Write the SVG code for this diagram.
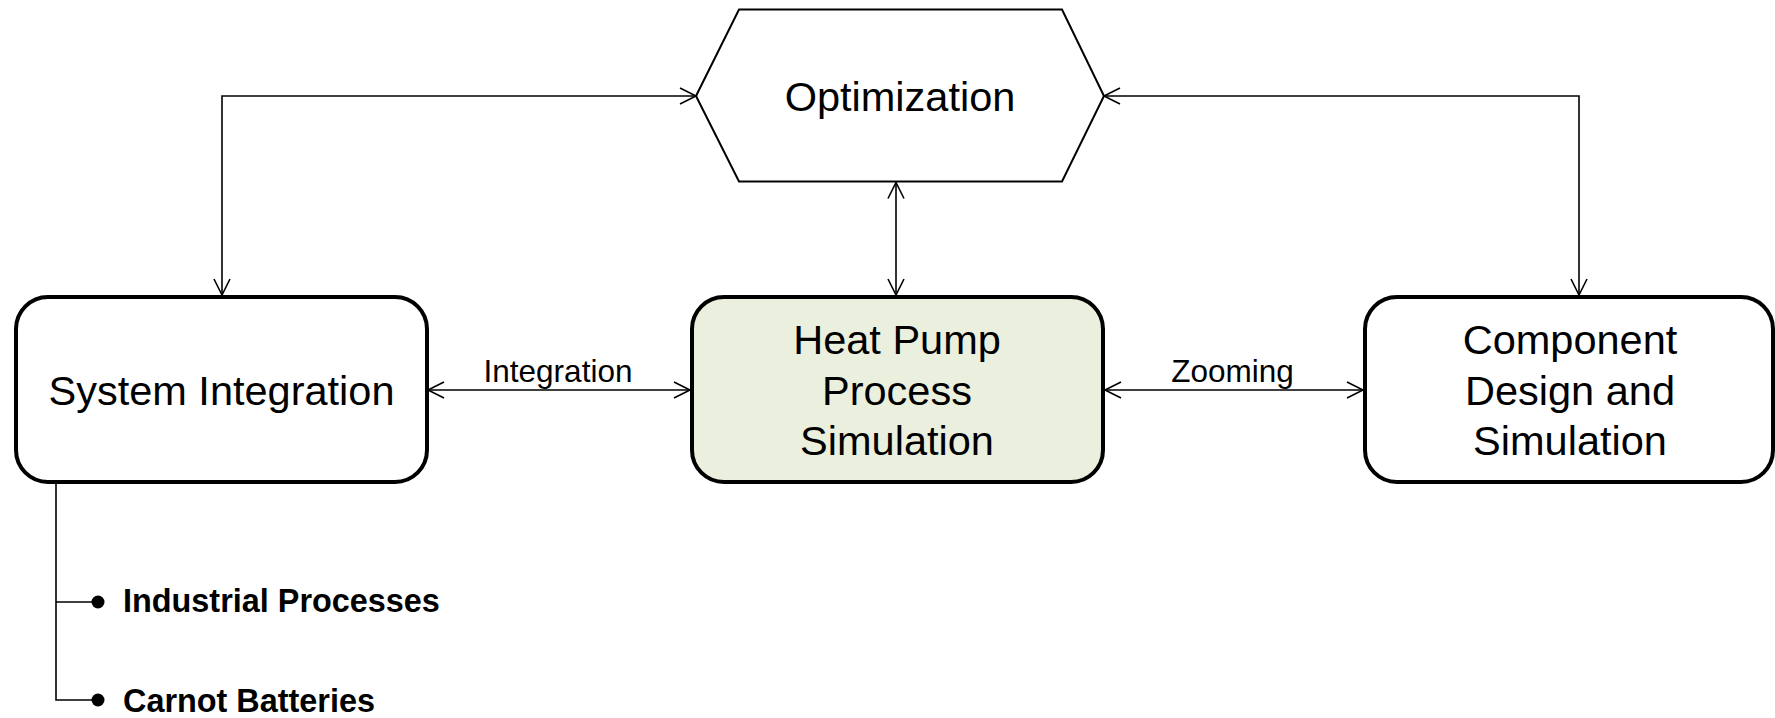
<svg xmlns="http://www.w3.org/2000/svg" width="1775" height="718" viewBox="0 0 1775 718">
<style>
.box{fill:#fff;stroke:#000;stroke-width:4}
.hp{fill:#EBEFDE}
.hex{fill:#fff;stroke:#000;stroke-width:2}
.con{fill:none;stroke:#000;stroke-width:1.6}
.t{font-family:"Liberation Sans",Arial,sans-serif;font-size:41.5px;fill:#000;text-anchor:middle}
.lbl{font-family:"Liberation Sans",Arial,sans-serif;font-size:31.5px;fill:#000;text-anchor:middle}
.b{font-family:"Liberation Sans",Arial,sans-serif;font-size:32.4px;font-weight:bold;fill:#000}
</style>
<defs>
<marker id="ah" markerUnits="userSpaceOnUse" viewBox="-17 -10 19 20" refX="0" refY="0" markerWidth="19" markerHeight="20" orient="auto-start-reverse">
<path d="M-16,-8 L0,0 L-16,8" fill="none" stroke="#000" stroke-width="1.6"/>
</marker>
</defs>
<rect width="1775" height="718" fill="#fff"/>
<g id="optimization">
<polygon class="hex" points="696,96 739,9.5 1062,9.5 1104,96 1062,181.5 739,181.5"/>
<text class="t" x="900" y="111">Optimization</text>
</g>
<g id="system-integration">
<rect class="box" x="16" y="297" width="411" height="185" rx="32"/>
<text class="t" x="221.5" y="405">System Integration</text>
</g>
<g id="heat-pump">
<rect class="box hp" x="692" y="297" width="411" height="185" rx="32"/>
<text class="t" x="897" y="354">Heat Pump</text>
<text class="t" x="897" y="405">Process</text>
<text class="t" x="897" y="455">Simulation</text>
</g>
<g id="component-design">
<rect class="box" x="1365" y="297" width="408" height="185" rx="32"/>
<text class="t" x="1570" y="354">Component</text>
<text class="t" x="1570" y="405">Design and</text>
<text class="t" x="1570" y="455">Simulation</text>
</g>
<g id="connectors">
<path class="con" d="M696,96 H222 V295" marker-start="url(#ah)" marker-end="url(#ah)"/>
<path class="con" d="M1104,96 H1579 V295" marker-start="url(#ah)" marker-end="url(#ah)"/>
<path class="con" d="M896,182.5 V295" marker-start="url(#ah)" marker-end="url(#ah)"/>
<path class="con" d="M428,390 H690" marker-start="url(#ah)" marker-end="url(#ah)"/>
<text class="lbl" x="558" y="382">Integration</text>
<path class="con" d="M1105,390 H1363" marker-start="url(#ah)" marker-end="url(#ah)"/>
<text class="lbl" x="1232.5" y="382">Zooming</text>
<path class="con" d="M56,483 V700 H98 M56,602 H98" stroke-width="2"/>
<circle cx="98" cy="602" r="6.5" fill="#000"/>
<circle cx="98" cy="700" r="6.5" fill="#000"/>
</g>
<g id="list">
<text class="b" x="123" y="612">Industrial Processes</text>
<text class="b" x="123" y="712">Carnot Batteries</text>
</g>
</svg>
